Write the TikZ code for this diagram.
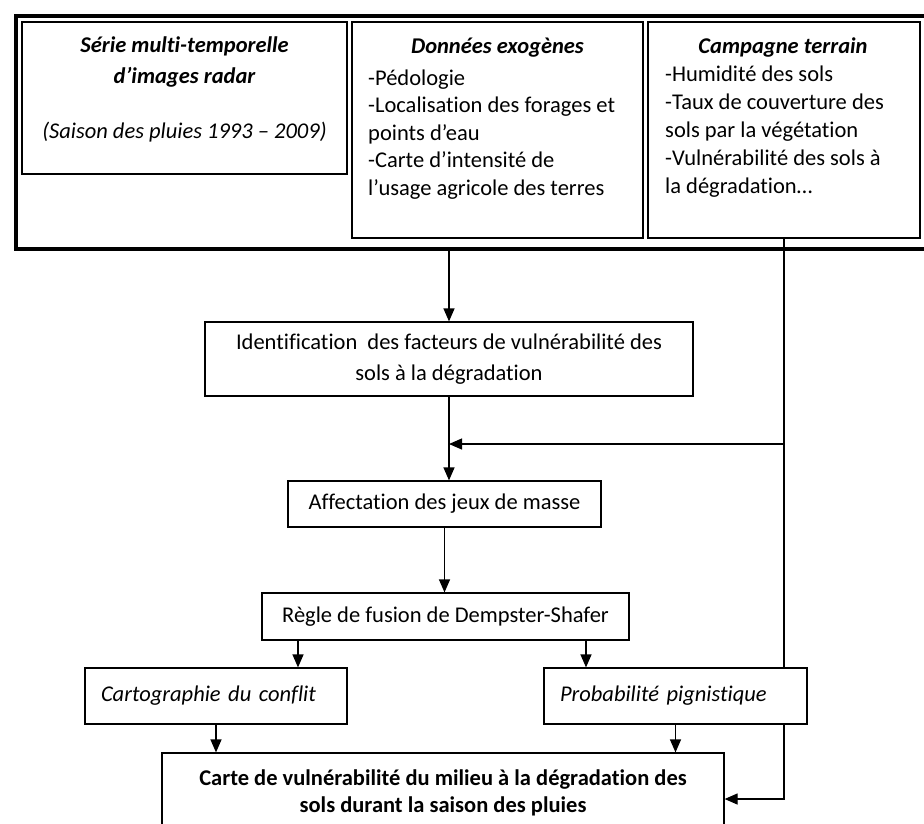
\documentclass[tikz,border=0pt]{standalone}
\usepackage{fontspec}
\setmainfont{Carlito}[Ligatures={TeX,NoCommon}]
\usetikzlibrary{arrows.meta}

\newcommand{\boxfont}{\fontsize{22.5}{27.5}\selectfont}

\tikzset{
  box/.style={draw, line width=1.2pt, fill=white, inner sep=0pt, font=\boxfont},
  frame/.style={draw, line width=4pt, inner sep=0pt},
  txt/.style={inner sep=0pt, font=\boxfont},
  flow/.style={line width=1.2pt, -{Triangle[length=13pt,width=11pt]}},
}

\begin{document}
\begin{tikzpicture}[x=1pt,y=-1pt]
  \useasboundingbox (0,0) rectangle (924,823);
  % input data
  \node[frame, anchor=north west, minimum width=930pt, minimum height=233pt] (inputs) at (14,14) {};
  \node[box, minimum width=325pt, minimum height=152pt] (radar) at (184.5,98) {};
  \node[box, minimum width=291pt, minimum height=216pt] (exo) at (497.5,130) {};
  \node[box, minimum width=272pt, minimum height=216pt] (terrain) at (784,130) {};
  % base = last line of the node
  \node[txt, align=center, anchor=base, font=\fontsize{22.5}{31}\selectfont\bfseries\itshape] (radar-t) at (184.5,83) {Série multi-temporelle\\d’images radar};
  \node[txt, anchor=base, font=\boxfont\itshape] (radar-s) at (184.5,138) {(Saison des pluies 1993 -- 2009)};
  \node[txt, anchor=base, font=\boxfont\bfseries\itshape] (exo-t) at (497.5,53) {Données exogènes};
  \node[txt, align=left, anchor=base west] (exo-l) at (368,195) {-Pédologie\\-Localisation des forages et\\points d’eau\\-Carte d’intensité de\\l’usage agricole des terres};
  \node[txt, anchor=base, font=\boxfont\bfseries\itshape] (terrain-t) at (783,53) {Campagne terrain};
  \node[txt, align=left, anchor=base west, font=\fontsize{22.5}{28}\selectfont] (terrain-l) at (665,193) {-Humidité des sols\\-Taux de couverture des\\sols par la végétation\\-Vulnérabilité des sols à\\la dégradation…};
  % processing chain
  \node[box, minimum width=488pt, minimum height=74pt, align=center, font=\fontsize{22.5}{31}\selectfont] (ident) at (449,359) {Identification\ \ des facteurs de vulnérabilité des\\sols à la dégradation};
  \node[box, minimum width=313pt, minimum height=46pt] (affect) at (444.5,504) {Affectation des jeux de masse};
  \node[box, minimum width=367pt, minimum height=47pt] (regle) at (445.5,616.5) {Règle de fusion de Dempster-Shafer};
  \node[box, minimum height=56pt, inner xsep=16pt, text width=230pt, align=left, font=\boxfont\itshape] (carto) at (216,696) {Cartographie du conflit};
  \node[box, minimum height=56pt, inner xsep=16pt, text width=231pt, align=left, font=\boxfont\itshape] (proba) at (675.5,696) {Probabilité pignistique};
  \node[box, minimum width=562pt, minimum height=80pt, align=center, font=\fontsize{22.5}{27}\selectfont\bfseries] (carte) at (443,793) {Carte de vulnérabilité du milieu à la dégradation des\\sols durant la saison des pluies};
  % arrows
  \draw[flow] (ident.north |- inputs.south) -- (ident.north);
  \draw[flow] (ident.south) -- (ident.south |- affect.north);
  \draw[flow] (affect.south) -- (affect.south |- regle.north);
  \draw[flow] ([xshift=-147.5pt]regle.south) -- ([xshift=82pt]carto.north);
  \draw[flow] ([xshift=140.5pt]regle.south) -- ([xshift=-89.5pt]proba.north);
  \draw[flow] (carto.south) -- (carto.south |- carte.north);
  \draw[flow] (proba.south) -- (proba.south |- carte.north);
  % field data goes down the right side
  \coordinate (tap) at (terrain.south |- 0,444);
  \draw[line width=1.2pt] (terrain.south) -- (terrain.south |- proba.north);
  \draw[flow] (tap) -- (tap -| ident.south);
  \draw[flow] (terrain.south |- proba.south) |- (carte.east |- 0,799);
\end{tikzpicture}
\end{document}
